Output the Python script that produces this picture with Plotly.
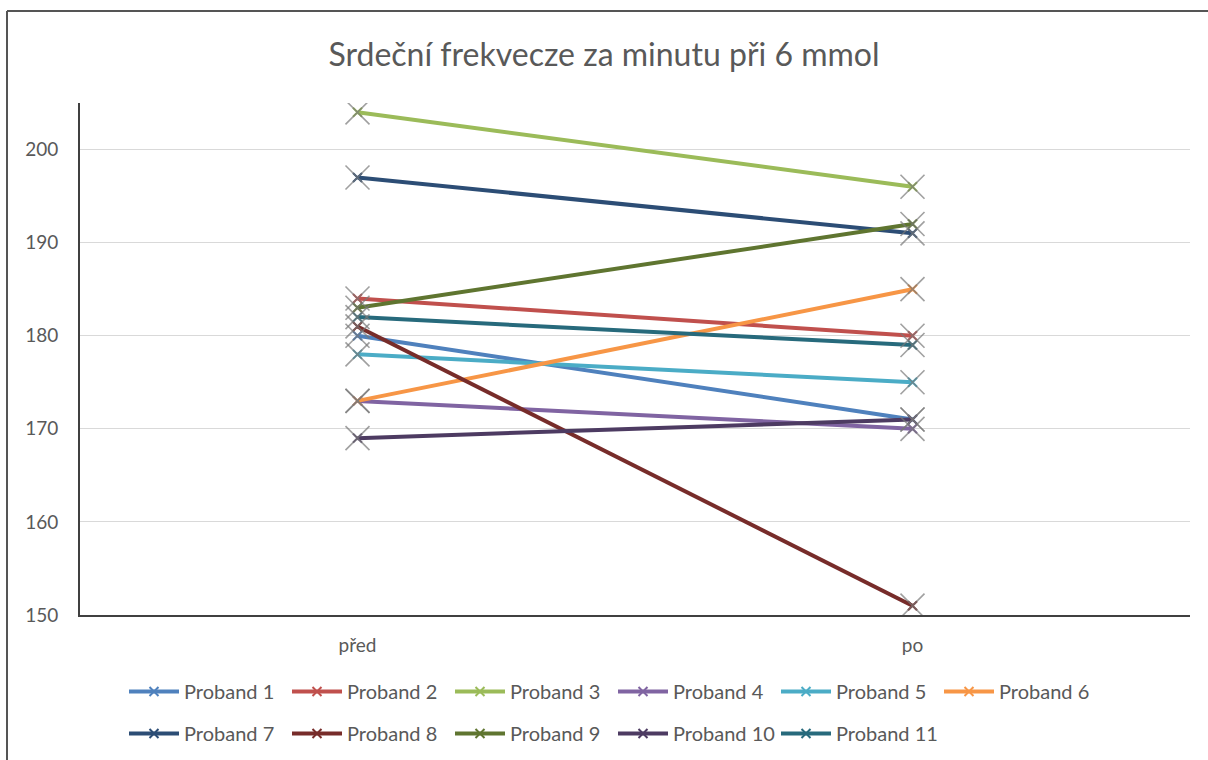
import plotly.graph_objects as go

categories = ["před", "po"]
names = ["Proband 1", "Proband 2", "Proband 3", "Proband 4", "Proband 5", "Proband 6",
         "Proband 7", "Proband 8", "Proband 9", "Proband 10", "Proband 11"]
pred = [180, 184, 204, 173, 178, 173, 197, 181, 183, 169, 182]
po = [171, 180, 196, 170, 175, 185, 191, 151, 192, 171, 179]
colors = ["#4F81BD", "#C0504D", "#9BBB59", "#8064A2", "#4BACC6", "#F79646",
          "#2C4D75", "#772C2A", "#5F7530", "#4D3B62", "#276A7C"]
y_ticks = [150, 160, 170, 180, 190, 200]

W, H = 1208, 760
L, R, T, B = 80, 18, 103, 145
pw, ph = W - L - R, H - T - B

fig = go.Figure()
for i, (n, a, b, c) in enumerate(zip(names, pred, po, colors)):
    fig.add_trace(go.Scatter(
        x=categories, y=[a, b], name=n, mode="lines+markers",
        legend="legend" if i < 6 else "legend2",
        line=dict(color=c, width=4),
        marker=dict(symbol="x-thin", size=9, color=c, line=dict(color=c, width=2)),
    ))
for n, a, b, c in zip(names, pred, po, colors):
    fig.add_trace(go.Scatter(
        x=categories, y=[a, b], mode="markers", showlegend=False, hoverinfo="skip",
        marker=dict(symbol="x-thin", size=24,
                    line=dict(color="rgba(120,120,120,0.7)", width=1.6)),
    ))

def px_x(x):
    return (x - L) / pw

def px_y(y):
    return (H - B - y) / ph

fig.add_shape(type="line", xref="paper", yref="paper",
              x0=px_x(7), x1=px_x(1210), y0=px_y(11), y1=px_y(11),
              line=dict(color="#555555", width=2))
fig.add_shape(type="line", xref="paper", yref="paper",
              x0=px_x(7), x1=px_x(7), y0=px_y(11), y1=px_y(762),
              line=dict(color="#555555", width=2))

font = "Lato, 'Open Sans', sans-serif"
leg_common = dict(orientation="h", xanchor="left", yanchor="top",
                  xref="container", yref="container",
                  entrywidth=98, entrywidthmode="pixels",
                  font=dict(size=20, color="#595959", family=font), itemwidth=50,
                  bgcolor="rgba(0,0,0,0)")
fig.update_layout(
    width=W, height=H,
    margin=dict(l=L, r=R, t=T, b=B, autoexpand=False),
    paper_bgcolor="white", plot_bgcolor="white",
    font=dict(family=font, color="#595959", size=19),
    title=dict(text="Srdeční frekvecze za minutu při 6 mmol", x=0.5, xanchor="center",
               y=1 - 55 / H, yanchor="middle",
               font=dict(size=32, color="#595959", family=font)),
    xaxis=dict(type="category", range=[-0.5, 1.5], showgrid=False,
               showline=True, linecolor="#404040", linewidth=2,
               ticks="", ticklabelstandoff=12, tickfont=dict(size=19, color="#595959")),
    yaxis=dict(range=[150, 205], tickvals=y_ticks, showgrid=True, gridcolor="#d9d9d9",
               gridwidth=1, zeroline=False, showline=True, linecolor="#404040", linewidth=2,
               ticks="", ticklabelstandoff=16, tickfont=dict(size=19, color="#595959")),
    legend=dict(x=124 / W, y=1 - 672 / H, **leg_common),
    legend2=dict(x=124 / W, y=1 - 714 / H, **leg_common),
    showlegend=True,
)

fig.write_html("out.html", config={"displayModeBar": False},
               post_script="document.body.style.margin='0';document.body.style.padding='0';")
